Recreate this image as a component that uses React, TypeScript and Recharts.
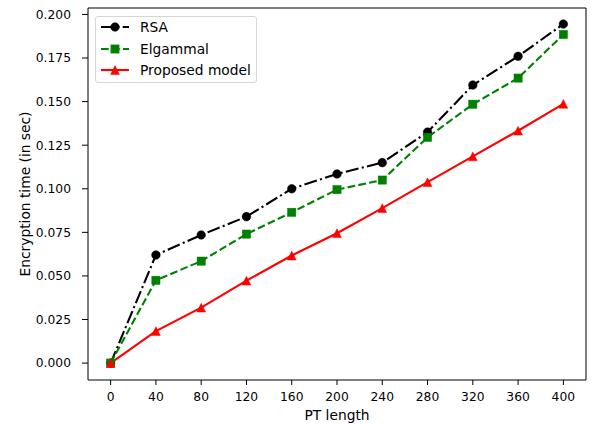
import { Line, LineChart, ReferenceArea, XAxis, YAxis } from "recharts";

const ptLength = [0, 40, 80, 120, 160, 200, 240, 280, 320, 360, 400];
const rsa = [0, 0.062, 0.0735, 0.084, 0.1, 0.1085, 0.115, 0.1325, 0.1595, 0.176, 0.1945];
const elgammal = [0, 0.0475, 0.0585, 0.074, 0.0865, 0.0995, 0.105, 0.1295, 0.1485, 0.1635, 0.1885];
const proposed = [0, 0.0183, 0.0318, 0.0473, 0.0617, 0.0745, 0.0889, 0.1038, 0.1186, 0.1333, 0.1487];

const xTicks = [0, 40, 80, 120, 160, 200, 240, 280, 320, 360, 400];
const yTicks = [0, 0.025, 0.05, 0.075, 0.1, 0.125, 0.15, 0.175, 0.2];

const FONT = "'DejaVu Sans', sans-serif";
const X_DOMAIN: [number, number] = [-20, 420];
const Y_DOMAIN: [number, number] = [-0.0097, 0.2037];

type Marker = "circle" | "square" | "triangle";

interface Series {
  key: string;
  name: string;
  color: string;
  dash?: string;
  marker: Marker;
}

const SERIES: Series[] = [
  { key: "rsa", name: "RSA", color: "#000000", dash: "13 3.3 2.1 3.3", marker: "circle" },
  { key: "elgammal", name: "Elgammal", color: "#008000", dash: "7.7 3.3", marker: "square" },
  { key: "proposed", name: "Proposed model", color: "#ff0000", marker: "triangle" },
];

const data = ptLength.map((x, i) => ({
  x,
  rsa: rsa[i],
  elgammal: elgammal[i],
  proposed: proposed[i],
}));

function markerShape(marker: Marker, color: string, cx: number, cy: number, key?: string) {
  if (marker === "circle") {
    return <circle key={key} cx={cx} cy={cy} r={4.3} fill={color} stroke={color} strokeWidth={0.5} />;
  }
  if (marker === "square") {
    return <rect key={key} x={cx - 4.1} y={cy - 4.1} width={8.2} height={8.2} fill={color} stroke={color} strokeWidth={0.5} />;
  }
  const h = 4.4;
  return (
    <polygon
      key={key}
      points={`${cx},${cy - h} ${cx - h},${cy + h} ${cx + h},${cy + h}`}
      fill={color}
      stroke={color}
      strokeWidth={0.5}
    />
  );
}

function makeDot(s: Series) {
  return (props: any) => markerShape(s.marker, s.color, props.cx, props.cy, `${s.key}-${props.index}`);
}

function YLabel(props: any) {
  const vb = props.viewBox ?? { x: 0, y: 8, width: 88, height: 372 };
  const cy = vb.y + vb.height / 2;
  const cx = 25;
  return (
    <text
      x={cx}
      y={cy}
      transform={`rotate(-90, ${cx}, ${cy})`}
      textAnchor="middle"
      dominantBaseline="central"
      fontFamily={FONT}
      fontSize={13.8}
      fill="#000"
    >
      Encryption time (in sec)
    </text>
  );
}

function LegendBox() {
  return (
    <div
      style={{
        position: "absolute",
        left: 95,
        top: 16,
        width: 162,
        height: 67,
        boxSizing: "border-box",
        border: "1px solid #d6d6d6",
        borderRadius: 3,
        background: "rgba(255,255,255,0.85)",
        fontFamily: FONT,
        fontSize: 13.8,
        color: "#000",
      }}
    >
      {SERIES.map((s, i) => (
        <div
          key={s.key}
          style={{ position: "absolute", left: 0, top: 10 - 16 + 16 + i * 21.5 - 10, height: 20, width: 160 }}
        >
          <svg width={40} height={20} style={{ position: "absolute", left: 0, top: 0 }}>
            <line x1={5} x2={33} y1={10} y2={10} stroke={s.color} strokeWidth={2.1} strokeDasharray={s.dash} />
            {markerShape(s.marker, s.color, 19, 10)}
          </svg>
          <span style={{ position: "absolute", left: 44, top: 0, lineHeight: "20px", whiteSpace: "nowrap" }}>
            {s.name}
          </span>
        </div>
      ))}
    </div>
  );
}

export default function App() {
  return (
    <div style={{ position: "relative", width: 592, height: 424, background: "#fff" }}>
      <style>{`body{margin:0}`}</style>
      <LineChart
        width={592}
        height={424}
        data={data}
        margin={{ top: 8, right: 6, bottom: 0, left: 0 }}
        accessibilityLayer={false}
      >
        <XAxis
          dataKey="x"
          type="number"
          domain={X_DOMAIN}
          ticks={xTicks}
          allowDataOverflow
          height={44}
          axisLine={false}
          tickLine={{ stroke: "#000" }}
          tickSize={5}
          tickMargin={7}
          tick={{ fill: "#000", fontSize: 12.3, fontFamily: FONT }}
          label={{
            value: "PT length",
            position: "insideBottom",
            offset: 4.5,
            fill: "#000",
            fontSize: 13.8,
            fontFamily: FONT,
          }}
        />
        <YAxis
          type="number"
          domain={Y_DOMAIN}
          ticks={yTicks}
          allowDataOverflow
          width={88}
          axisLine={false}
          tickLine={{ stroke: "#000" }}
          tickSize={6}
          tickMargin={11}
          tick={{ fill: "#000", fontSize: 12.3, fontFamily: FONT }}
          tickFormatter={(v: number) => v.toFixed(3)}
          label={<YLabel />}
        />
        <ReferenceArea
          x1={X_DOMAIN[0]}
          x2={X_DOMAIN[1]}
          y1={Y_DOMAIN[0]}
          y2={Y_DOMAIN[1]}
          fill="none"
          stroke="#000"
          strokeWidth={1}
          ifOverflow="visible"
        />
        {SERIES.map((s) => (
          <Line
            key={s.key}
            dataKey={s.key}
            name={s.name}
            stroke={s.color}
            strokeWidth={2.1}
            strokeDasharray={s.dash}
            dot={makeDot(s)}
            activeDot={false}
            isAnimationActive={false}
            type="linear"
          />
        ))}
      </LineChart>
      <LegendBox />
    </div>
  );
}
